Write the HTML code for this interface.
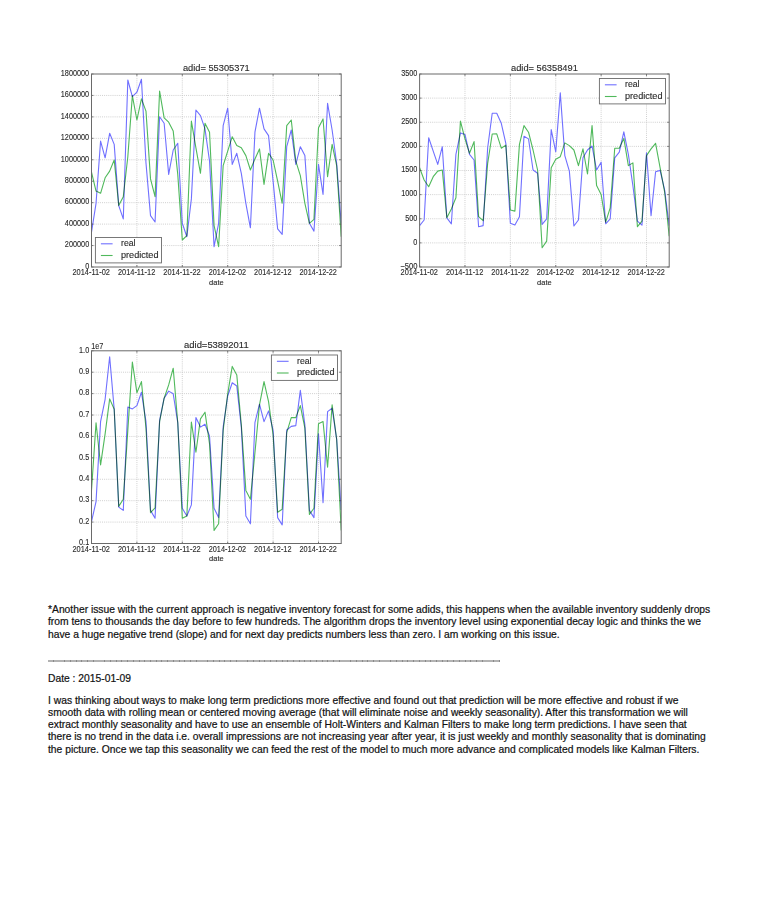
<!DOCTYPE html>
<html><head><meta charset="utf-8"><style>
html,body{margin:0;padding:0;background:#fff;}
body{width:771px;height:900px;position:relative;overflow:hidden;}
.l{position:absolute;left:48px;white-space:nowrap;font-family:"Liberation Sans",sans-serif;font-size:10.3px;line-height:12.3px;color:#111;-webkit-text-stroke:0.2px #111;}
</style></head><body>
<svg width="771" height="570" viewBox="0 0 771 570" style="position:absolute;left:0;top:0;filter:blur(0.3px)" font-family='"Liberation Sans", sans-serif' fill="#2a2a2a"><style>text{stroke:#2a2a2a;stroke-width:0.12px;}</style>
<defs><clipPath id="clip91_74"><rect x="91.5" y="74" width="249.7" height="193"/></clipPath><clipPath id="clip419_74"><rect x="419.6" y="74" width="249.6" height="193"/></clipPath><clipPath id="clip91_350"><rect x="91.5" y="350.8" width="249.7" height="192.7"/></clipPath></defs>
<line x1="136.9" y1="74" x2="136.9" y2="267" stroke="#c4c4c4" stroke-width="0.8" stroke-dasharray="1,1.1"/>
<line x1="182.3" y1="74" x2="182.3" y2="267" stroke="#c4c4c4" stroke-width="0.8" stroke-dasharray="1,1.1"/>
<line x1="227.7" y1="74" x2="227.7" y2="267" stroke="#c4c4c4" stroke-width="0.8" stroke-dasharray="1,1.1"/>
<line x1="273.1" y1="74" x2="273.1" y2="267" stroke="#c4c4c4" stroke-width="0.8" stroke-dasharray="1,1.1"/>
<line x1="318.5" y1="74" x2="318.5" y2="267" stroke="#c4c4c4" stroke-width="0.8" stroke-dasharray="1,1.1"/>
<line x1="91.5" y1="245.56" x2="341.2" y2="245.56" stroke="#c4c4c4" stroke-width="0.8" stroke-dasharray="1,1.1"/>
<line x1="91.5" y1="224.11" x2="341.2" y2="224.11" stroke="#c4c4c4" stroke-width="0.8" stroke-dasharray="1,1.1"/>
<line x1="91.5" y1="202.67" x2="341.2" y2="202.67" stroke="#c4c4c4" stroke-width="0.8" stroke-dasharray="1,1.1"/>
<line x1="91.5" y1="181.22" x2="341.2" y2="181.22" stroke="#c4c4c4" stroke-width="0.8" stroke-dasharray="1,1.1"/>
<line x1="91.5" y1="159.78" x2="341.2" y2="159.78" stroke="#c4c4c4" stroke-width="0.8" stroke-dasharray="1,1.1"/>
<line x1="91.5" y1="138.33" x2="341.2" y2="138.33" stroke="#c4c4c4" stroke-width="0.8" stroke-dasharray="1,1.1"/>
<line x1="91.5" y1="116.89" x2="341.2" y2="116.89" stroke="#c4c4c4" stroke-width="0.8" stroke-dasharray="1,1.1"/>
<line x1="91.5" y1="95.44" x2="341.2" y2="95.44" stroke="#c4c4c4" stroke-width="0.8" stroke-dasharray="1,1.1"/>
<g clip-path="url(#clip91_74)">
<polyline points="91.5,232.2 96.04,203.3 100.58,141.1 105.12,157.8 109.66,133.3 114.2,144.4 118.74,205.6 123.28,218.9 127.82,80 132.36,96.7 136.9,92.2 141.44,79.3 145.98,163 150.52,215.6 155.06,222 159.6,116.7 164.14,123.3 168.68,174.4 173.22,150 177.76,143.3 182.3,223.3 186.84,236.7 191.38,198.9 195.92,110 200.46,115.6 205,128.9 209.54,161.1 214.08,246.7 218.62,223.3 223.16,125.6 227.7,108.2 232.24,164.4 236.78,153.3 241.32,173.3 245.86,203.3 250.4,227.8 254.94,132.2 259.48,108.2 264.02,128.9 268.56,135.6 273.1,181.1 277.64,228.9 282.18,234.4 286.72,146.7 291.26,130 295.8,164.4 300.34,146.7 304.88,155.6 309.42,223.3 313.96,231.1 318.5,164.4 323.04,194.4 327.58,103.3 332.12,130 336.66,163.3 341.2,223.3" fill="none" stroke="#7070ff" stroke-width="1.1" stroke-linejoin="round" style="mix-blend-mode:multiply"/>
<polyline points="91.5,172.2 96.04,191.1 100.58,193.3 105.12,177.8 109.66,171.1 114.2,160 118.74,205.6 123.28,196.7 127.82,156.7 132.36,95.6 136.9,120 141.44,98.9 145.98,111.1 150.52,178.9 155.06,196.7 159.6,91.1 164.14,117.8 168.68,122.2 173.22,131.1 177.76,174.4 182.3,240 186.84,235.6 191.38,121.1 195.92,147.8 200.46,173.3 205,123.3 209.54,132.2 214.08,225.6 218.62,246.7 223.16,165.6 227.7,151.1 232.24,136.7 236.78,145.6 241.32,147.8 245.86,155.6 250.4,170 254.94,158.9 259.48,148.9 264.02,184.4 268.56,153.3 273.1,160 277.64,181.1 282.18,203.3 286.72,125.6 291.26,120 295.8,161.1 300.34,175.6 304.88,203.3 309.42,223.3 313.96,219.3 318.5,127.8 323.04,118.9 327.58,176.7 332.12,144.4 336.66,165.6 341.2,236.7" fill="none" stroke="#50b95c" stroke-width="1.1" stroke-linejoin="round" style="mix-blend-mode:multiply"/>
</g>
<line x1="91.5" y1="267" x2="91.5" y2="265" stroke="#333" stroke-width="0.6"/>
<line x1="91.5" y1="74" x2="91.5" y2="76" stroke="#333" stroke-width="0.6"/>
<line x1="136.9" y1="267" x2="136.9" y2="265" stroke="#333" stroke-width="0.6"/>
<line x1="136.9" y1="74" x2="136.9" y2="76" stroke="#333" stroke-width="0.6"/>
<line x1="182.3" y1="267" x2="182.3" y2="265" stroke="#333" stroke-width="0.6"/>
<line x1="182.3" y1="74" x2="182.3" y2="76" stroke="#333" stroke-width="0.6"/>
<line x1="227.7" y1="267" x2="227.7" y2="265" stroke="#333" stroke-width="0.6"/>
<line x1="227.7" y1="74" x2="227.7" y2="76" stroke="#333" stroke-width="0.6"/>
<line x1="273.1" y1="267" x2="273.1" y2="265" stroke="#333" stroke-width="0.6"/>
<line x1="273.1" y1="74" x2="273.1" y2="76" stroke="#333" stroke-width="0.6"/>
<line x1="318.5" y1="267" x2="318.5" y2="265" stroke="#333" stroke-width="0.6"/>
<line x1="318.5" y1="74" x2="318.5" y2="76" stroke="#333" stroke-width="0.6"/>
<line x1="91.5" y1="267" x2="93.5" y2="267" stroke="#333" stroke-width="0.6"/>
<line x1="341.2" y1="267" x2="339.2" y2="267" stroke="#333" stroke-width="0.6"/>
<line x1="91.5" y1="245.56" x2="93.5" y2="245.56" stroke="#333" stroke-width="0.6"/>
<line x1="341.2" y1="245.56" x2="339.2" y2="245.56" stroke="#333" stroke-width="0.6"/>
<line x1="91.5" y1="224.11" x2="93.5" y2="224.11" stroke="#333" stroke-width="0.6"/>
<line x1="341.2" y1="224.11" x2="339.2" y2="224.11" stroke="#333" stroke-width="0.6"/>
<line x1="91.5" y1="202.67" x2="93.5" y2="202.67" stroke="#333" stroke-width="0.6"/>
<line x1="341.2" y1="202.67" x2="339.2" y2="202.67" stroke="#333" stroke-width="0.6"/>
<line x1="91.5" y1="181.22" x2="93.5" y2="181.22" stroke="#333" stroke-width="0.6"/>
<line x1="341.2" y1="181.22" x2="339.2" y2="181.22" stroke="#333" stroke-width="0.6"/>
<line x1="91.5" y1="159.78" x2="93.5" y2="159.78" stroke="#333" stroke-width="0.6"/>
<line x1="341.2" y1="159.78" x2="339.2" y2="159.78" stroke="#333" stroke-width="0.6"/>
<line x1="91.5" y1="138.33" x2="93.5" y2="138.33" stroke="#333" stroke-width="0.6"/>
<line x1="341.2" y1="138.33" x2="339.2" y2="138.33" stroke="#333" stroke-width="0.6"/>
<line x1="91.5" y1="116.89" x2="93.5" y2="116.89" stroke="#333" stroke-width="0.6"/>
<line x1="341.2" y1="116.89" x2="339.2" y2="116.89" stroke="#333" stroke-width="0.6"/>
<line x1="91.5" y1="95.44" x2="93.5" y2="95.44" stroke="#333" stroke-width="0.6"/>
<line x1="341.2" y1="95.44" x2="339.2" y2="95.44" stroke="#333" stroke-width="0.6"/>
<line x1="91.5" y1="74" x2="93.5" y2="74" stroke="#333" stroke-width="0.6"/>
<line x1="341.2" y1="74" x2="339.2" y2="74" stroke="#333" stroke-width="0.6"/>
<rect x="91.5" y="74" width="249.7" height="193" fill="none" stroke="#6a6a6a" stroke-width="1"/>
<rect x="95.4" y="237.5" width="66.1" height="25.4" fill="#fff" stroke="#6a6a6a" stroke-width="0.9"/>
<line x1="100.9" y1="243.8" x2="112.6" y2="243.8" stroke="#7070ff" stroke-width="1.1"/>
<line x1="100.9" y1="255.5" x2="112.6" y2="255.5" stroke="#50b95c" stroke-width="1.1"/>
<text x="121" y="246.1" font-size="8.6" textLength="14.5" lengthAdjust="spacingAndGlyphs">real</text>
<text x="121" y="257.7" font-size="8.6" textLength="37.5" lengthAdjust="spacingAndGlyphs">predicted</text>
<text x="216.35" y="71.2" font-size="8.5" text-anchor="middle" textLength="66.8" lengthAdjust="spacingAndGlyphs">adid= 55305371</text>
<text x="89.2" y="268.8" font-size="8.6" text-anchor="end" textLength="4.06" lengthAdjust="spacingAndGlyphs">0</text>
<text x="89.2" y="247.36" font-size="8.6" text-anchor="end" textLength="24.35" lengthAdjust="spacingAndGlyphs">200000</text>
<text x="89.2" y="225.91" font-size="8.6" text-anchor="end" textLength="24.35" lengthAdjust="spacingAndGlyphs">400000</text>
<text x="89.2" y="204.47" font-size="8.6" text-anchor="end" textLength="24.35" lengthAdjust="spacingAndGlyphs">600000</text>
<text x="89.2" y="183.02" font-size="8.6" text-anchor="end" textLength="24.35" lengthAdjust="spacingAndGlyphs">800000</text>
<text x="89.2" y="161.58" font-size="8.6" text-anchor="end" textLength="28.41" lengthAdjust="spacingAndGlyphs">1000000</text>
<text x="89.2" y="140.13" font-size="8.6" text-anchor="end" textLength="28.41" lengthAdjust="spacingAndGlyphs">1200000</text>
<text x="89.2" y="118.69" font-size="8.6" text-anchor="end" textLength="28.41" lengthAdjust="spacingAndGlyphs">1400000</text>
<text x="89.2" y="97.24" font-size="8.6" text-anchor="end" textLength="28.41" lengthAdjust="spacingAndGlyphs">1600000</text>
<text x="89.2" y="75.8" font-size="8.6" text-anchor="end" textLength="28.41" lengthAdjust="spacingAndGlyphs">1800000</text>
<text x="91.2" y="275.1" font-size="8.6" text-anchor="middle" textLength="37.4" lengthAdjust="spacingAndGlyphs">2014-11-02</text>
<text x="136.6" y="275.1" font-size="8.6" text-anchor="middle" textLength="37.4" lengthAdjust="spacingAndGlyphs">2014-11-12</text>
<text x="182" y="275.1" font-size="8.6" text-anchor="middle" textLength="37.4" lengthAdjust="spacingAndGlyphs">2014-11-22</text>
<text x="227.4" y="275.1" font-size="8.6" text-anchor="middle" textLength="37.4" lengthAdjust="spacingAndGlyphs">2014-12-02</text>
<text x="272.8" y="275.1" font-size="8.6" text-anchor="middle" textLength="37.4" lengthAdjust="spacingAndGlyphs">2014-12-12</text>
<text x="318.2" y="275.1" font-size="8.6" text-anchor="middle" textLength="37.4" lengthAdjust="spacingAndGlyphs">2014-12-22</text>
<text x="216.35" y="284.5" font-size="7.9" text-anchor="middle" textLength="14.6" lengthAdjust="spacingAndGlyphs">date</text>
<line x1="464.98" y1="74" x2="464.98" y2="267" stroke="#c4c4c4" stroke-width="0.8" stroke-dasharray="1,1.1"/>
<line x1="510.36" y1="74" x2="510.36" y2="267" stroke="#c4c4c4" stroke-width="0.8" stroke-dasharray="1,1.1"/>
<line x1="555.75" y1="74" x2="555.75" y2="267" stroke="#c4c4c4" stroke-width="0.8" stroke-dasharray="1,1.1"/>
<line x1="601.13" y1="74" x2="601.13" y2="267" stroke="#c4c4c4" stroke-width="0.8" stroke-dasharray="1,1.1"/>
<line x1="646.51" y1="74" x2="646.51" y2="267" stroke="#c4c4c4" stroke-width="0.8" stroke-dasharray="1,1.1"/>
<line x1="419.6" y1="242.88" x2="669.2" y2="242.88" stroke="#c4c4c4" stroke-width="0.8" stroke-dasharray="1,1.1"/>
<line x1="419.6" y1="218.75" x2="669.2" y2="218.75" stroke="#c4c4c4" stroke-width="0.8" stroke-dasharray="1,1.1"/>
<line x1="419.6" y1="194.62" x2="669.2" y2="194.62" stroke="#c4c4c4" stroke-width="0.8" stroke-dasharray="1,1.1"/>
<line x1="419.6" y1="170.5" x2="669.2" y2="170.5" stroke="#c4c4c4" stroke-width="0.8" stroke-dasharray="1,1.1"/>
<line x1="419.6" y1="146.38" x2="669.2" y2="146.38" stroke="#c4c4c4" stroke-width="0.8" stroke-dasharray="1,1.1"/>
<line x1="419.6" y1="122.25" x2="669.2" y2="122.25" stroke="#c4c4c4" stroke-width="0.8" stroke-dasharray="1,1.1"/>
<line x1="419.6" y1="98.12" x2="669.2" y2="98.12" stroke="#c4c4c4" stroke-width="0.8" stroke-dasharray="1,1.1"/>
<g clip-path="url(#clip419_74)">
<polyline points="419.6,225.6 424.14,220 428.68,137.8 433.21,151.1 437.75,164.4 442.29,146.7 446.83,217.8 451.37,223.8 455.91,154.4 460.44,132.9 464.98,134.4 469.52,154.4 474.06,160 478.6,226.7 483.13,225.6 487.67,147.8 492.21,113.3 496.75,113.3 501.29,123.3 505.83,143.3 510.36,223.3 514.9,225.1 519.44,216.7 523.98,136.2 528.52,138.9 533.05,170 537.59,173.3 542.13,224.4 546.67,218.9 551.21,129.6 555.75,151.8 560.28,92.9 564.82,155.6 569.36,171.1 573.9,226 578.44,220 582.97,157.8 587.51,150 592.05,146 596.59,170 601.13,162.2 605.67,223.8 610.2,218.9 614.74,157.8 619.28,152.2 623.82,131.8 628.36,154.4 632.89,185.6 637.43,221.1 641.97,225.1 646.51,152.7 651.05,215.6 655.59,171.8 660.12,170.4 664.66,190 669.2,225.6" fill="none" stroke="#7070ff" stroke-width="1.1" stroke-linejoin="round" style="mix-blend-mode:multiply"/>
<polyline points="419.6,167.8 424.14,180 428.68,186.7 433.21,176.7 437.75,171.1 442.29,170 446.83,217.8 451.37,208.9 455.91,197.8 460.44,121.1 464.98,138.9 469.52,153.3 474.06,141.6 478.6,216.7 483.13,220.7 487.67,163.3 492.21,134 496.75,133.8 501.29,148.2 505.83,145.1 510.36,210 514.9,211.1 519.44,144.4 523.98,125.6 528.52,132.2 533.05,150 537.59,170 542.13,247.8 546.67,241.1 551.21,167.8 555.75,159.3 560.28,156.7 564.82,142.9 569.36,145.6 573.9,150 578.44,165.6 582.97,148.9 587.51,174 592.05,125.6 596.59,185.6 601.13,194.4 605.67,222.2 610.2,207.8 614.74,148.2 619.28,148.2 623.82,138.4 628.36,165.6 632.89,162.9 637.43,226.7 641.97,221.1 646.51,155.6 651.05,148.9 655.59,143.3 660.12,167.8 664.66,192.2 669.2,236.2" fill="none" stroke="#50b95c" stroke-width="1.1" stroke-linejoin="round" style="mix-blend-mode:multiply"/>
</g>
<line x1="419.6" y1="267" x2="419.6" y2="265" stroke="#333" stroke-width="0.6"/>
<line x1="419.6" y1="74" x2="419.6" y2="76" stroke="#333" stroke-width="0.6"/>
<line x1="464.98" y1="267" x2="464.98" y2="265" stroke="#333" stroke-width="0.6"/>
<line x1="464.98" y1="74" x2="464.98" y2="76" stroke="#333" stroke-width="0.6"/>
<line x1="510.36" y1="267" x2="510.36" y2="265" stroke="#333" stroke-width="0.6"/>
<line x1="510.36" y1="74" x2="510.36" y2="76" stroke="#333" stroke-width="0.6"/>
<line x1="555.75" y1="267" x2="555.75" y2="265" stroke="#333" stroke-width="0.6"/>
<line x1="555.75" y1="74" x2="555.75" y2="76" stroke="#333" stroke-width="0.6"/>
<line x1="601.13" y1="267" x2="601.13" y2="265" stroke="#333" stroke-width="0.6"/>
<line x1="601.13" y1="74" x2="601.13" y2="76" stroke="#333" stroke-width="0.6"/>
<line x1="646.51" y1="267" x2="646.51" y2="265" stroke="#333" stroke-width="0.6"/>
<line x1="646.51" y1="74" x2="646.51" y2="76" stroke="#333" stroke-width="0.6"/>
<line x1="419.6" y1="267" x2="421.6" y2="267" stroke="#333" stroke-width="0.6"/>
<line x1="669.2" y1="267" x2="667.2" y2="267" stroke="#333" stroke-width="0.6"/>
<line x1="419.6" y1="242.88" x2="421.6" y2="242.88" stroke="#333" stroke-width="0.6"/>
<line x1="669.2" y1="242.88" x2="667.2" y2="242.88" stroke="#333" stroke-width="0.6"/>
<line x1="419.6" y1="218.75" x2="421.6" y2="218.75" stroke="#333" stroke-width="0.6"/>
<line x1="669.2" y1="218.75" x2="667.2" y2="218.75" stroke="#333" stroke-width="0.6"/>
<line x1="419.6" y1="194.62" x2="421.6" y2="194.62" stroke="#333" stroke-width="0.6"/>
<line x1="669.2" y1="194.62" x2="667.2" y2="194.62" stroke="#333" stroke-width="0.6"/>
<line x1="419.6" y1="170.5" x2="421.6" y2="170.5" stroke="#333" stroke-width="0.6"/>
<line x1="669.2" y1="170.5" x2="667.2" y2="170.5" stroke="#333" stroke-width="0.6"/>
<line x1="419.6" y1="146.38" x2="421.6" y2="146.38" stroke="#333" stroke-width="0.6"/>
<line x1="669.2" y1="146.38" x2="667.2" y2="146.38" stroke="#333" stroke-width="0.6"/>
<line x1="419.6" y1="122.25" x2="421.6" y2="122.25" stroke="#333" stroke-width="0.6"/>
<line x1="669.2" y1="122.25" x2="667.2" y2="122.25" stroke="#333" stroke-width="0.6"/>
<line x1="419.6" y1="98.12" x2="421.6" y2="98.12" stroke="#333" stroke-width="0.6"/>
<line x1="669.2" y1="98.12" x2="667.2" y2="98.12" stroke="#333" stroke-width="0.6"/>
<line x1="419.6" y1="74" x2="421.6" y2="74" stroke="#333" stroke-width="0.6"/>
<line x1="669.2" y1="74" x2="667.2" y2="74" stroke="#333" stroke-width="0.6"/>
<rect x="419.6" y="74" width="249.6" height="193" fill="none" stroke="#6a6a6a" stroke-width="1"/>
<rect x="599.4" y="78.5" width="66.1" height="25.4" fill="#fff" stroke="#6a6a6a" stroke-width="0.9"/>
<line x1="604.9" y1="84.8" x2="616.6" y2="84.8" stroke="#7070ff" stroke-width="1.1"/>
<line x1="604.9" y1="96.5" x2="616.6" y2="96.5" stroke="#50b95c" stroke-width="1.1"/>
<text x="625" y="87.1" font-size="8.6" textLength="14.5" lengthAdjust="spacingAndGlyphs">real</text>
<text x="625" y="98.7" font-size="8.6" textLength="37.5" lengthAdjust="spacingAndGlyphs">predicted</text>
<text x="544.4" y="70.8" font-size="8.5" text-anchor="middle" textLength="66.8" lengthAdjust="spacingAndGlyphs">adid= 56358491</text>
<text x="417.4" y="268.8" font-size="8.6" text-anchor="end" textLength="17.2" lengthAdjust="spacingAndGlyphs">−500</text>
<text x="417.4" y="244.68" font-size="8.6" text-anchor="end" textLength="4.06" lengthAdjust="spacingAndGlyphs">0</text>
<text x="417.4" y="220.55" font-size="8.6" text-anchor="end" textLength="12.18" lengthAdjust="spacingAndGlyphs">500</text>
<text x="417.4" y="196.43" font-size="8.6" text-anchor="end" textLength="16.24" lengthAdjust="spacingAndGlyphs">1000</text>
<text x="417.4" y="172.3" font-size="8.6" text-anchor="end" textLength="16.24" lengthAdjust="spacingAndGlyphs">1500</text>
<text x="417.4" y="148.18" font-size="8.6" text-anchor="end" textLength="16.24" lengthAdjust="spacingAndGlyphs">2000</text>
<text x="417.4" y="124.05" font-size="8.6" text-anchor="end" textLength="16.24" lengthAdjust="spacingAndGlyphs">2500</text>
<text x="417.4" y="99.92" font-size="8.6" text-anchor="end" textLength="16.24" lengthAdjust="spacingAndGlyphs">3000</text>
<text x="417.4" y="75.8" font-size="8.6" text-anchor="end" textLength="16.24" lengthAdjust="spacingAndGlyphs">3500</text>
<text x="419.3" y="275.1" font-size="8.6" text-anchor="middle" textLength="37.4" lengthAdjust="spacingAndGlyphs">2014-11-02</text>
<text x="464.68" y="275.1" font-size="8.6" text-anchor="middle" textLength="37.4" lengthAdjust="spacingAndGlyphs">2014-11-12</text>
<text x="510.06" y="275.1" font-size="8.6" text-anchor="middle" textLength="37.4" lengthAdjust="spacingAndGlyphs">2014-11-22</text>
<text x="555.45" y="275.1" font-size="8.6" text-anchor="middle" textLength="37.4" lengthAdjust="spacingAndGlyphs">2014-12-02</text>
<text x="600.83" y="275.1" font-size="8.6" text-anchor="middle" textLength="37.4" lengthAdjust="spacingAndGlyphs">2014-12-12</text>
<text x="646.21" y="275.1" font-size="8.6" text-anchor="middle" textLength="37.4" lengthAdjust="spacingAndGlyphs">2014-12-22</text>
<text x="544.4" y="284.5" font-size="7.9" text-anchor="middle" textLength="14.6" lengthAdjust="spacingAndGlyphs">date</text>
<line x1="136.9" y1="350.8" x2="136.9" y2="543.5" stroke="#c4c4c4" stroke-width="0.8" stroke-dasharray="1,1.1"/>
<line x1="182.3" y1="350.8" x2="182.3" y2="543.5" stroke="#c4c4c4" stroke-width="0.8" stroke-dasharray="1,1.1"/>
<line x1="227.7" y1="350.8" x2="227.7" y2="543.5" stroke="#c4c4c4" stroke-width="0.8" stroke-dasharray="1,1.1"/>
<line x1="273.1" y1="350.8" x2="273.1" y2="543.5" stroke="#c4c4c4" stroke-width="0.8" stroke-dasharray="1,1.1"/>
<line x1="318.5" y1="350.8" x2="318.5" y2="543.5" stroke="#c4c4c4" stroke-width="0.8" stroke-dasharray="1,1.1"/>
<line x1="91.5" y1="522.09" x2="341.2" y2="522.09" stroke="#c4c4c4" stroke-width="0.8" stroke-dasharray="1,1.1"/>
<line x1="91.5" y1="500.68" x2="341.2" y2="500.68" stroke="#c4c4c4" stroke-width="0.8" stroke-dasharray="1,1.1"/>
<line x1="91.5" y1="479.27" x2="341.2" y2="479.27" stroke="#c4c4c4" stroke-width="0.8" stroke-dasharray="1,1.1"/>
<line x1="91.5" y1="457.86" x2="341.2" y2="457.86" stroke="#c4c4c4" stroke-width="0.8" stroke-dasharray="1,1.1"/>
<line x1="91.5" y1="436.44" x2="341.2" y2="436.44" stroke="#c4c4c4" stroke-width="0.8" stroke-dasharray="1,1.1"/>
<line x1="91.5" y1="415.03" x2="341.2" y2="415.03" stroke="#c4c4c4" stroke-width="0.8" stroke-dasharray="1,1.1"/>
<line x1="91.5" y1="393.62" x2="341.2" y2="393.62" stroke="#c4c4c4" stroke-width="0.8" stroke-dasharray="1,1.1"/>
<line x1="91.5" y1="372.21" x2="341.2" y2="372.21" stroke="#c4c4c4" stroke-width="0.8" stroke-dasharray="1,1.1"/>
<g clip-path="url(#clip91_350)">
<polyline points="91.5,521.6 96.04,501.6 100.58,421.6 105.12,399.3 109.66,356.7 114.2,409.3 118.74,507.1 123.28,510.4 127.82,407.1 132.36,408.9 136.9,405.6 141.44,392.2 145.98,421.6 150.52,510.4 155.06,518.2 159.6,420.4 164.14,398.2 168.68,391.1 173.22,393.8 177.76,422.7 182.3,508.2 186.84,516 191.38,504.9 195.92,417.6 200.46,427.1 205,424.2 209.54,436 214.08,508.2 218.62,517.6 223.16,427.1 227.7,396 232.24,382.7 236.78,386 241.32,427.1 245.86,516 250.4,523.8 254.94,422.7 259.48,404.2 264.02,421.6 268.56,410.9 273.1,430.4 277.64,517.6 282.18,524.9 286.72,430 291.26,426.4 295.8,425.6 300.34,390.4 304.88,424.9 309.42,510.4 313.96,517.6 318.5,433.8 323.04,502.7 327.58,411.6 332.12,408.2 336.66,439.3 341.2,510" fill="none" stroke="#7070ff" stroke-width="1.1" stroke-linejoin="round" style="mix-blend-mode:multiply"/>
<polyline points="91.5,490.4 96.04,422.7 100.58,464.9 105.12,433.8 109.66,398.9 114.2,409.3 118.74,506.4 123.28,499.3 127.82,430.4 132.36,362 136.9,392.7 141.44,381.6 145.98,428.2 150.52,512.7 155.06,507.8 159.6,421.6 164.14,398.2 168.68,384.9 173.22,368.2 177.76,422.7 182.3,518.2 186.84,516 191.38,422 195.92,452.2 200.46,418.9 205,412.2 209.54,443.8 214.08,530.4 218.62,523.8 223.16,430.4 227.7,393.8 232.24,366.4 236.78,374.9 241.32,424.9 245.86,490.4 250.4,499.3 254.94,452.7 259.48,404.9 264.02,381.6 268.56,401.6 273.1,434.9 277.64,512.2 282.18,509.3 286.72,432.7 291.26,417.6 295.8,417.6 300.34,405.6 304.88,428.2 309.42,514.4 313.96,508.2 318.5,423.8 323.04,421.6 327.58,467.1 332.12,404.9 336.66,439.3 341.2,530.4" fill="none" stroke="#50b95c" stroke-width="1.1" stroke-linejoin="round" style="mix-blend-mode:multiply"/>
</g>
<line x1="91.5" y1="543.5" x2="91.5" y2="541.5" stroke="#333" stroke-width="0.6"/>
<line x1="91.5" y1="350.8" x2="91.5" y2="352.8" stroke="#333" stroke-width="0.6"/>
<line x1="136.9" y1="543.5" x2="136.9" y2="541.5" stroke="#333" stroke-width="0.6"/>
<line x1="136.9" y1="350.8" x2="136.9" y2="352.8" stroke="#333" stroke-width="0.6"/>
<line x1="182.3" y1="543.5" x2="182.3" y2="541.5" stroke="#333" stroke-width="0.6"/>
<line x1="182.3" y1="350.8" x2="182.3" y2="352.8" stroke="#333" stroke-width="0.6"/>
<line x1="227.7" y1="543.5" x2="227.7" y2="541.5" stroke="#333" stroke-width="0.6"/>
<line x1="227.7" y1="350.8" x2="227.7" y2="352.8" stroke="#333" stroke-width="0.6"/>
<line x1="273.1" y1="543.5" x2="273.1" y2="541.5" stroke="#333" stroke-width="0.6"/>
<line x1="273.1" y1="350.8" x2="273.1" y2="352.8" stroke="#333" stroke-width="0.6"/>
<line x1="318.5" y1="543.5" x2="318.5" y2="541.5" stroke="#333" stroke-width="0.6"/>
<line x1="318.5" y1="350.8" x2="318.5" y2="352.8" stroke="#333" stroke-width="0.6"/>
<line x1="91.5" y1="543.5" x2="93.5" y2="543.5" stroke="#333" stroke-width="0.6"/>
<line x1="341.2" y1="543.5" x2="339.2" y2="543.5" stroke="#333" stroke-width="0.6"/>
<line x1="91.5" y1="522.09" x2="93.5" y2="522.09" stroke="#333" stroke-width="0.6"/>
<line x1="341.2" y1="522.09" x2="339.2" y2="522.09" stroke="#333" stroke-width="0.6"/>
<line x1="91.5" y1="500.68" x2="93.5" y2="500.68" stroke="#333" stroke-width="0.6"/>
<line x1="341.2" y1="500.68" x2="339.2" y2="500.68" stroke="#333" stroke-width="0.6"/>
<line x1="91.5" y1="479.27" x2="93.5" y2="479.27" stroke="#333" stroke-width="0.6"/>
<line x1="341.2" y1="479.27" x2="339.2" y2="479.27" stroke="#333" stroke-width="0.6"/>
<line x1="91.5" y1="457.86" x2="93.5" y2="457.86" stroke="#333" stroke-width="0.6"/>
<line x1="341.2" y1="457.86" x2="339.2" y2="457.86" stroke="#333" stroke-width="0.6"/>
<line x1="91.5" y1="436.44" x2="93.5" y2="436.44" stroke="#333" stroke-width="0.6"/>
<line x1="341.2" y1="436.44" x2="339.2" y2="436.44" stroke="#333" stroke-width="0.6"/>
<line x1="91.5" y1="415.03" x2="93.5" y2="415.03" stroke="#333" stroke-width="0.6"/>
<line x1="341.2" y1="415.03" x2="339.2" y2="415.03" stroke="#333" stroke-width="0.6"/>
<line x1="91.5" y1="393.62" x2="93.5" y2="393.62" stroke="#333" stroke-width="0.6"/>
<line x1="341.2" y1="393.62" x2="339.2" y2="393.62" stroke="#333" stroke-width="0.6"/>
<line x1="91.5" y1="372.21" x2="93.5" y2="372.21" stroke="#333" stroke-width="0.6"/>
<line x1="341.2" y1="372.21" x2="339.2" y2="372.21" stroke="#333" stroke-width="0.6"/>
<line x1="91.5" y1="350.8" x2="93.5" y2="350.8" stroke="#333" stroke-width="0.6"/>
<line x1="341.2" y1="350.8" x2="339.2" y2="350.8" stroke="#333" stroke-width="0.6"/>
<rect x="91.5" y="350.8" width="249.7" height="192.7" fill="none" stroke="#6a6a6a" stroke-width="1"/>
<rect x="271.4" y="355" width="66.1" height="25.4" fill="#fff" stroke="#6a6a6a" stroke-width="0.9"/>
<line x1="276.9" y1="361.3" x2="288.6" y2="361.3" stroke="#7070ff" stroke-width="1.1"/>
<line x1="276.9" y1="373" x2="288.6" y2="373" stroke="#50b95c" stroke-width="1.1"/>
<text x="297" y="363.6" font-size="8.6" textLength="14.5" lengthAdjust="spacingAndGlyphs">real</text>
<text x="297" y="375.2" font-size="8.6" textLength="37.5" lengthAdjust="spacingAndGlyphs">predicted</text>
<text x="216.35" y="347.9" font-size="8.5" text-anchor="middle" textLength="64.6" lengthAdjust="spacingAndGlyphs">adid=53892011</text>
<text x="89.2" y="545.3" font-size="8.6" text-anchor="end" textLength="10.15" lengthAdjust="spacingAndGlyphs">0.1</text>
<text x="89.2" y="523.89" font-size="8.6" text-anchor="end" textLength="10.15" lengthAdjust="spacingAndGlyphs">0.2</text>
<text x="89.2" y="502.48" font-size="8.6" text-anchor="end" textLength="10.15" lengthAdjust="spacingAndGlyphs">0.3</text>
<text x="89.2" y="481.07" font-size="8.6" text-anchor="end" textLength="10.15" lengthAdjust="spacingAndGlyphs">0.4</text>
<text x="89.2" y="459.66" font-size="8.6" text-anchor="end" textLength="10.15" lengthAdjust="spacingAndGlyphs">0.5</text>
<text x="89.2" y="438.24" font-size="8.6" text-anchor="end" textLength="10.15" lengthAdjust="spacingAndGlyphs">0.6</text>
<text x="89.2" y="416.83" font-size="8.6" text-anchor="end" textLength="10.15" lengthAdjust="spacingAndGlyphs">0.7</text>
<text x="89.2" y="395.42" font-size="8.6" text-anchor="end" textLength="10.15" lengthAdjust="spacingAndGlyphs">0.8</text>
<text x="89.2" y="374.01" font-size="8.6" text-anchor="end" textLength="10.15" lengthAdjust="spacingAndGlyphs">0.9</text>
<text x="89.2" y="352.6" font-size="8.6" text-anchor="end" textLength="10.15" lengthAdjust="spacingAndGlyphs">1.0</text>
<text x="91.2" y="551.6" font-size="8.6" text-anchor="middle" textLength="37.4" lengthAdjust="spacingAndGlyphs">2014-11-02</text>
<text x="136.6" y="551.6" font-size="8.6" text-anchor="middle" textLength="37.4" lengthAdjust="spacingAndGlyphs">2014-11-12</text>
<text x="182" y="551.6" font-size="8.6" text-anchor="middle" textLength="37.4" lengthAdjust="spacingAndGlyphs">2014-11-22</text>
<text x="227.4" y="551.6" font-size="8.6" text-anchor="middle" textLength="37.4" lengthAdjust="spacingAndGlyphs">2014-12-02</text>
<text x="272.8" y="551.6" font-size="8.6" text-anchor="middle" textLength="37.4" lengthAdjust="spacingAndGlyphs">2014-12-12</text>
<text x="318.2" y="551.6" font-size="8.6" text-anchor="middle" textLength="37.4" lengthAdjust="spacingAndGlyphs">2014-12-22</text>
<text x="216.35" y="561" font-size="7.9" text-anchor="middle" textLength="14.6" lengthAdjust="spacingAndGlyphs">date</text>
<text x="91.2" y="349" font-size="8.6" textLength="12.18" lengthAdjust="spacingAndGlyphs">1e7</text>
</svg>
<div class="l" style="top:603.88px;">*Another issue with the current approach is negative inventory forecast for some adids, this happens when the available inventory suddenly drops</div><div class="l" style="top:615.88px;">from tens to thousands the day before to few hundreds. The algorithm drops the inventory level using exponential decay logic and thinks the we</div><div class="l" style="top:628.88px;">have a huge negative trend (slope) and for next day predicts numbers less than zero. I am working on this issue.</div><div class="l" style="top:672.88px;">Date : 2015-01-09</div><div class="l" style="top:694.88px;">I was thinking about ways to make long term predictions more effective and found out that prediction will be more effective and robust if we</div><div class="l" style="top:706.88px;">smooth data with rolling mean or centered moving average (that will eliminate noise and weekly seasonality). After this transformation we will</div><div class="l" style="top:718.88px;">extract monthly seasonality and have to use an ensemble of Holt-Winters and Kalman Filters to make long term predictions. I have seen that</div><div class="l" style="top:731.08px;">there is no trend in the data i.e. overall impressions are not increasing year after year, it is just weekly and monthly seasonality that is dominating</div><div class="l" style="top:743.88px;">the picture. Once we tap this seasonality we can feed the rest of the model to much more advance and complicated models like Kalman Filters.</div>
<div style="position:absolute;left:48px;top:660px;width:452px;height:2px;background:repeating-linear-gradient(90deg,#b2b2b2 0 4.8px,#8a8a8a 4.8px 5.72px);"></div>
</body></html>
